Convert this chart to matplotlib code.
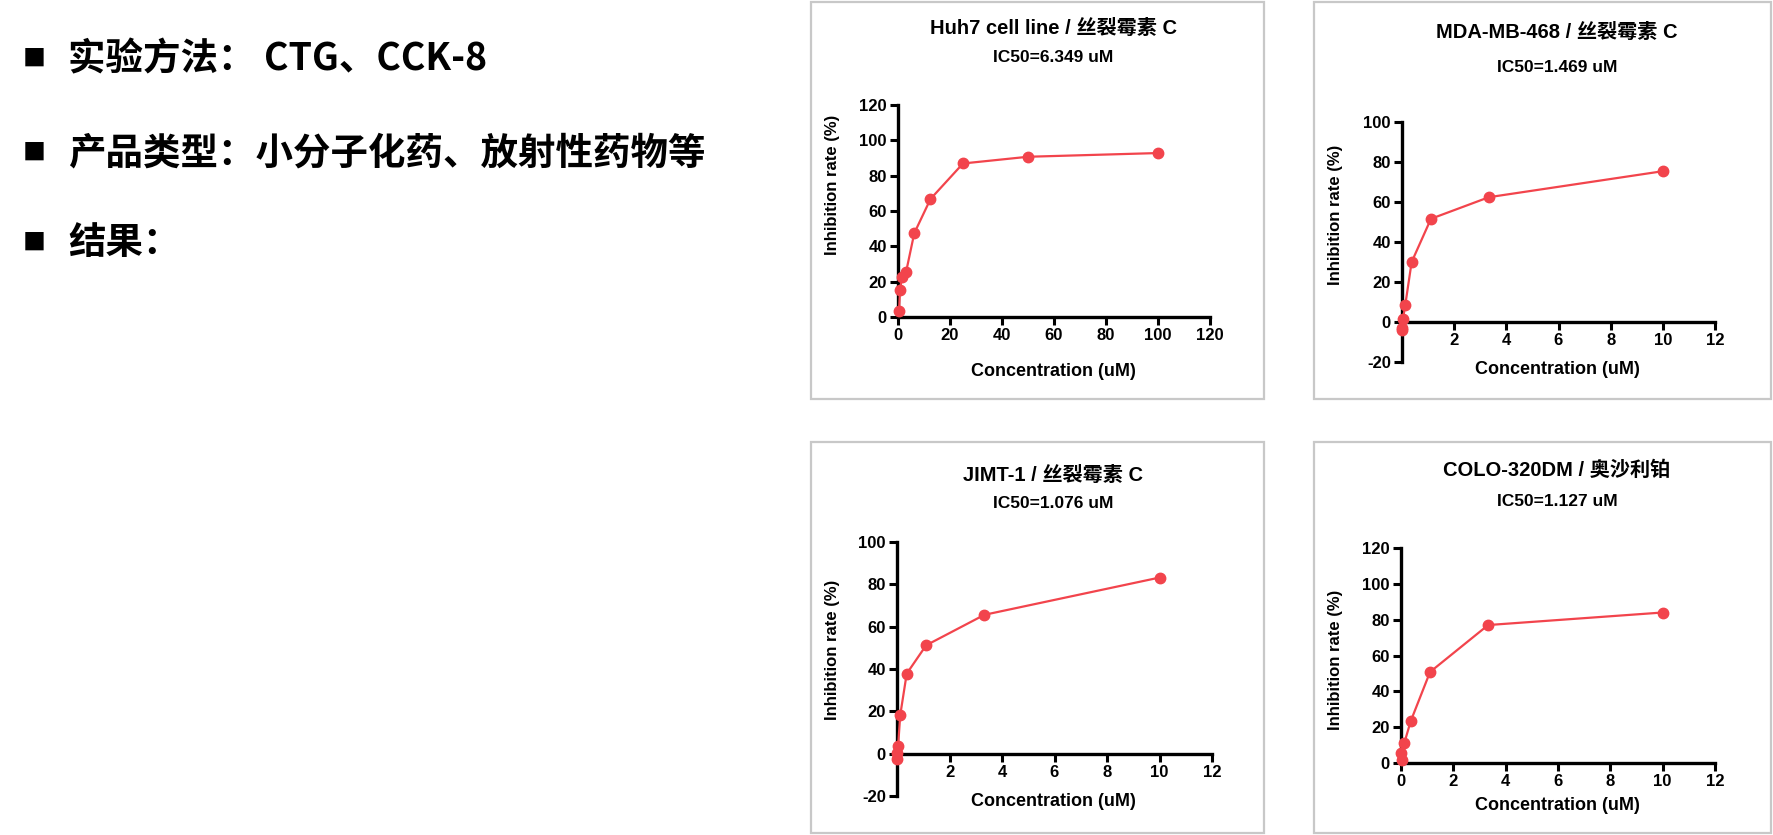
import numpy as np
import matplotlib
matplotlib.use("Agg")
import matplotlib.pyplot as plt
from matplotlib.patches import Rectangle

plt.rcParams['font.family'] = ['Liberation Sans', 'Noto Sans CJK SC', 'DejaVu Sans']
plt.rcParams['axes.unicode_minus'] = False

# Panel titles and IC50 values
titles = ["Huh7 cell line / 丝裂霉素 C", "MDA-MB-468 / 丝裂霉素 C",
          "JIMT-1 / 丝裂霉素 C", "COLO-320DM / 奥沙利铂"]
ic50 = ["IC50=6.349 uM", "IC50=1.469 uM", "IC50=1.076 uM", "IC50=1.127 uM"]

# Concentrations (uM) and inhibition rate (%)
huh7_x = [0.39, 0.78, 1.56, 3.125, 6.25, 12.5, 25, 50, 100]
huh7_y = [3.2, 15.3, 22.8, 25.6, 47.4, 66.8, 86.9, 90.7, 92.8]

mda_x = [0.0046, 0.0137, 0.041, 0.123, 0.37, 1.11, 3.33, 10]
mda_y = [-4.2, -3.0, 1.7, 8.3, 30.0, 51.6, 62.4, 75.4]

jimt_x = [0.0046, 0.0137, 0.041, 0.123, 0.37, 1.11, 3.33, 10]
jimt_y = [-2.5, 0.5, 3.5, 18.2, 37.8, 51.2, 65.6, 83.2]

colo_x = [0.0046, 0.041, 0.123, 0.37, 1.11, 3.33, 10]
colo_y = [5.6, 1.9, 11.0, 23.3, 50.8, 77.0, 84.0]

bullets = ["实验方法： CTG、CCK-8", "产品类型：小分子化药、放射性药物等", "结果："]

W, H = 1773, 835
fig = plt.figure(figsize=(W / 100, H / 100), dpi=100)

def fx(px):
    return px / W

def fy(py):
    return 1 - py / H

# left hand text
for t, yy in zip(bullets, [59, 153, 243]):
    fig.text(fx(23), fy(yy), "■", fontsize=16.5, fontweight='bold',
             family=['Noto Sans CJK SC'], va='center', ha='left')
    fig.text(fx(68), fy(yy), t, fontsize=27, fontweight='bold',
             family=['Noto Sans CJK SC'], va='center', ha='left')

# panel borders
boxes = [(811, 2, 1264, 399), (1314, 2, 1771, 399),
         (811, 442, 1264, 833), (1314, 442, 1771, 833)]
for (x0, y0, x1, y1) in boxes:
    fig.add_artist(Rectangle((fx(x0), fy(y1)), fx(x1 - x0), (y1 - y0) / H,
                             transform=fig.transFigure, fill=False,
                             edgecolor='#c8c8c8', linewidth=1.6))

# axes rectangles in pixels: left, right, top, bottom
axes_px = [(898, 1210, 105, 317), (1402, 1715, 122, 362),
           (897, 1212, 542, 796), (1401, 1715, 548, 763)]
ylims = [(0, 120), (-20, 100), (-20, 100), (0, 120)]
xlims = [(0, 120), (0, 12), (0, 12), (0, 12)]
xticks = [np.arange(0, 121, 20), np.arange(2, 13, 2), np.arange(2, 13, 2), np.arange(0, 13, 2)]
title_y = [(28, 58), (32, 67), (475, 504), (470, 502)]
title_x = [1053, 1557, 1053, 1557]
xlabel_y = [372, 369, 802, 806]
ylabel_pos = [(840, 185), (1343, 215), (840, 650), (1343, 660)]
data = [(huh7_x, huh7_y), (mda_x, mda_y), (jimt_x, jimt_y), (colo_x, colo_y)]

red = '#F2444C'

for i in range(4):
    l, r, t, b = axes_px[i]
    ax = fig.add_axes([fx(l), fy(b), fx(r - l), (b - t) / H])
    xs, ys = data[i]
    ax.plot(xs, ys, color=red, lw=1.6, marker='o', ms=7.5, clip_on=False, zorder=5)
    ax.set_xlim(*xlims[i])
    ax.set_ylim(*ylims[i])
    ax.set_xticks(xticks[i])
    ax.set_yticks(np.arange(ylims[i][0], ylims[i][1] + 1, 20))
    for s in ['top', 'right']:
        ax.spines[s].set_visible(False)
    for s in ['left', 'bottom']:
        ax.spines[s].set_linewidth(2.4)
    ax.spines['bottom'].set_position(('data', 0))
    ax.tick_params(width=2.2, length=6, labelsize=12, pad=2)
    for lab in ax.get_xticklabels() + ax.get_yticklabels():
        lab.set_fontweight('bold')
    ax.patch.set_alpha(0)

    ax.set_ylabel("Inhibition rate (%)", fontsize=12, fontweight='bold')
    ax.yaxis.set_label_coords(fx(ylabel_pos[i][0]), fy(ylabel_pos[i][1]), transform=fig.transFigure)
    fig.text(fx(title_x[i]), fy(xlabel_y[i]), "Concentration (uM)", fontsize=13,
             fontweight='bold', ha='center', va='center')
    fig.text(fx(title_x[i]), fy(title_y[i][0]), titles[i], fontsize=14.5,
             fontweight='bold', ha='center', va='center')
    fig.text(fx(title_x[i]), fy(title_y[i][1]), ic50[i], fontsize=12.5,
             fontweight='bold', ha='center', va='center')

fig.savefig("out.png", dpi=100)
